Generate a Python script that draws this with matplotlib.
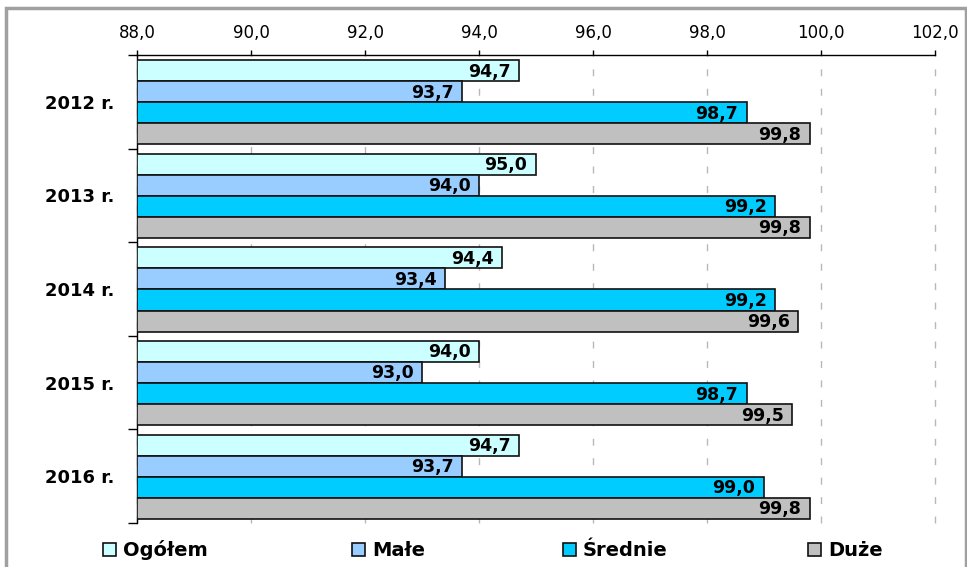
import matplotlib
matplotlib.use("Agg")
import matplotlib.pyplot as plt
from matplotlib.patches import Rectangle
import numpy as np

years = ["2012 r.", "2013 r.", "2014 r.", "2015 r.", "2016 r."]
series_names = ["Ogółem", "Małe", "Średnie", "Duże"]
ogolem = [94.7, 95.0, 94.4, 94.0, 94.7]
male = [93.7, 94.0, 93.4, 93.0, 93.7]
srednie = [98.7, 99.2, 99.2, 98.7, 99.0]
duze = [99.8, 99.8, 99.6, 99.5, 99.8]
x_ticks = [88, 90, 92, 94, 96, 98, 100, 102]

colors = ["#CCFFFF", "#99CCFF", "#00CCFF", "#C0C0C0"]

plt.rcParams["font.family"] = ["DejaVu Sans"]

W, H = 967, 567
fig = plt.figure(figsize=(W / 100, H / 100), dpi=100)
fig.patches.append(Rectangle((0.0065, -0.05), 0.992, 1.036, transform=fig.transFigure,
                             fill=False, edgecolor="#A0A0A0", linewidth=2.5))

ax = fig.add_axes([0.1417, 0.0776, 0.8252, 0.8254])

base = 88.0
h = 0.225
offsets = (np.arange(4) - 1.5) * h + 0.005
y = np.arange(len(years))
all_series = [ogolem, male, srednie, duze]
for k, vals in enumerate(all_series):
    widths = [v - base for v in vals]
    ax.barh(y + offsets[k], widths, height=h, left=base, color=colors[k],
            edgecolor="#111111", linewidth=1.2, zorder=3)
    for yi, v in zip(y + offsets[k], vals):
        ax.text(v - 0.15, yi + 0.01, f"{v:.1f}".replace(".", ","), ha="right", va="center",
                fontsize=12.5, fontweight="bold", zorder=4)

ax.set_xlim(88, 102)
ax.set_ylim(len(years) - 0.5, -0.5)

ax.set_xticks(x_ticks)
ax.set_xticklabels([f"{t:.1f}".replace(".", ",") for t in x_ticks], fontsize=12)
ax.xaxis.tick_top()
ax.tick_params(axis="x", direction="out", length=3.6, width=1, pad=6)

ax.set_yticks(y)
ax.set_yticklabels(years, fontsize=13, fontweight="bold")
ax.tick_params(axis="y", which="major", length=0, pad=16)
ax.set_yticks(np.arange(len(years) + 1) - 0.5, minor=True)
ax.tick_params(axis="y", which="minor", length=6.5, width=1, direction="out")

ax.grid(axis="x", color="#B8B8B8", linestyle=(0, (5, 9)), linewidth=1, zorder=0)
for gl in ax.get_xgridlines():
    gl.set_clip_on(False)
for s in ["right", "bottom"]:
    ax.spines[s].set_visible(False)
ax.spines["left"].set_linewidth(1)
ax.spines["top"].set_linewidth(1)

# legend entries along the bottom edge: square key + bold name
legend_x = [103, 352, 563, 808]
sq = 13
yc = 549
for name, c, lx in zip(series_names, colors, legend_x):
    fig.patches.append(Rectangle((lx / W, 1 - (yc + sq / 2) / H), sq / W, sq / H,
                                 transform=fig.transFigure, facecolor=c,
                                 edgecolor="#111111", linewidth=1.2))
    fig.text((lx + sq + 7) / W, 1 - (yc + 1) / H, name, ha="left", va="center",
             fontsize=14, fontweight="bold")

fig.savefig("out.png", dpi=100)
